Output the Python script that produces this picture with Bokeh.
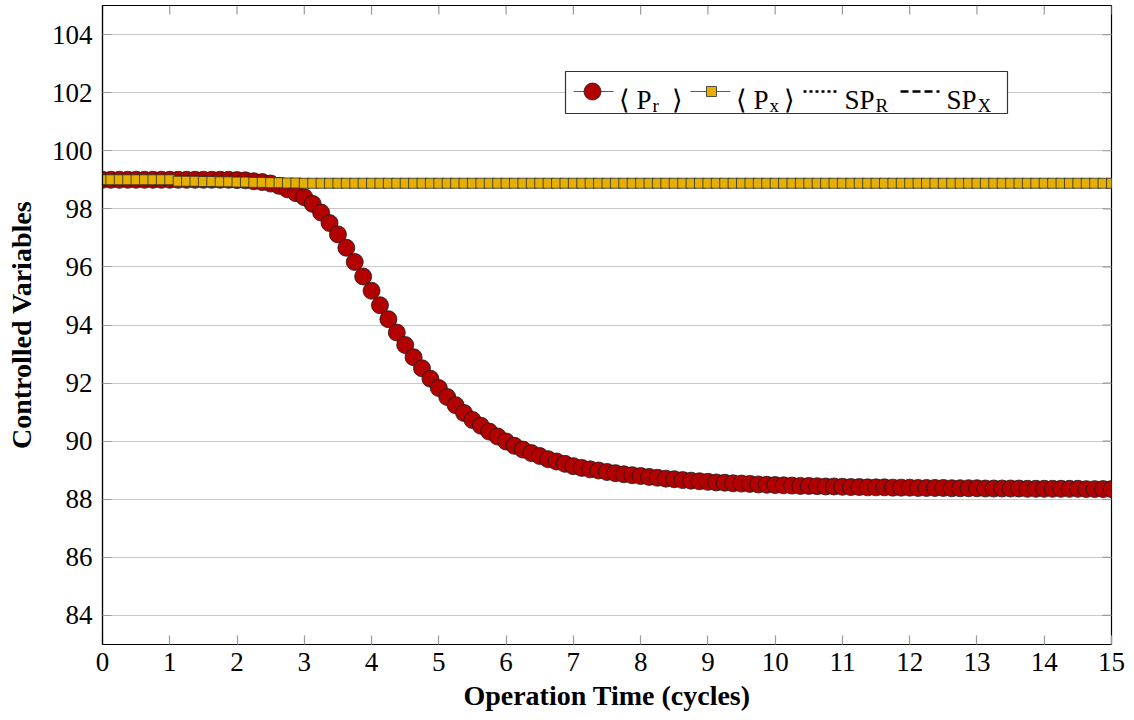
from bokeh.plotting import figure
from bokeh.models import FixedTicker, Range1d
from bokeh.core.properties import value
from bokeh.embed import file_html
from bokeh.resources import INLINE

# ---------------- data ----------------
time = [round(i * 0.125, 3) for i in range(121)]  # sample grid, cycles (step 0.125)

pr = ([99.00] * 16 +
      [98.99, 98.98, 98.95, 98.92, 98.87, 98.79, 98.67, 98.54,
       98.40, 98.17, 97.87, 97.51, 97.12, 96.66, 96.17, 95.67,
       95.18, 94.68, 94.20, 93.74, 93.31, 92.89, 92.51, 92.15,
       91.83, 91.52, 91.24, 90.97, 90.73, 90.53, 90.33, 90.16,
       89.99, 89.84, 89.71, 89.59, 89.49, 89.38, 89.30, 89.22,
       89.14, 89.08, 89.03, 88.99, 88.94, 88.90, 88.86, 88.83,
       88.80, 88.77, 88.74, 88.71, 88.69, 88.66, 88.64, 88.62,
       88.60, 88.58, 88.57, 88.55, 88.54, 88.53, 88.51, 88.50,
       88.49, 88.48, 88.47, 88.46, 88.46, 88.45, 88.44, 88.44,
       88.43, 88.42, 88.42, 88.41, 88.41, 88.41, 88.40, 88.40,
       88.40, 88.39, 88.39, 88.39, 88.39, 88.38, 88.38, 88.38,
       88.38] +
      [88.37] * 5 + [88.36] * 7 + [88.35] * 4)

px = ([99.00] * 9 +
      [98.95, 98.95, 98.95, 98.94, 98.94, 98.93, 98.93, 98.92,
       98.92, 98.91, 98.91, 98.90, 98.90, 98.89, 98.89] +
      [98.88] * 97)

x_ticks = list(range(0, 16))
y_ticks = list(range(84, 105, 2))
x_title = "Operation Time (cycles)"
y_title = "Controlled Variables"
legend_pr = ("\u27e8", "P", "r", "\u27e9")
legend_px = ("\u27e8", "P", "x", "\u27e9")
legend_spr = ("SP", "R")
legend_spx = ("SP", "X")

# ---------------- styles ----------------
FONT = "Liberation Serif"
RED = "#b30000"
GOLD = "#e5b000"
CONNECT = "#5a5a5a"
TICK = "#9a9a9a"
X0, X1, Y0, Y1 = 0, 15, 83, 105

p = figure(width=1134, height=720, output_backend="svg", toolbar_location=None,
           x_range=Range1d(X0, X1), y_range=Range1d(Y0, Y1),
           min_border_left=102, min_border_right=23, min_border_top=5,
           min_border_bottom=76, background_fill_color="white",
           border_fill_color="white")

p.outline_line_color = "black"
p.outline_line_width = 1.2
p.xgrid.visible = False
p.ygrid.ticker = FixedTicker(ticks=y_ticks)
p.ygrid.grid_line_color = "#c8c8c8"
p.ygrid.grid_line_width = 1.2

for ax, ticks in ((p.xaxis[0], x_ticks), (p.yaxis[0], y_ticks)):
    ax.ticker = FixedTicker(ticks=ticks)
    ax.axis_line_color = "black"
    ax.axis_line_width = 1.2
    ax.major_tick_in = 9
    ax.major_tick_out = 0
    ax.major_tick_line_color = TICK
    ax.major_tick_line_width = 1.2
    ax.minor_tick_line_color = None
    ax.major_label_text_font = FONT
    ax.major_label_text_font_size = "27px"
    ax.major_label_text_color = "black"
    ax.axis_label_text_font = FONT
    ax.axis_label_text_font_size = "28px"
    ax.axis_label_text_font_style = "bold"
    ax.axis_label_text_color = "black"

p.xaxis.axis_label = x_title
p.yaxis.axis_label = y_title
p.xaxis.major_label_standoff = 8
p.yaxis.major_label_standoff = 10
p.xaxis.axis_label_standoff = 6
p.yaxis.axis_label_standoff = 12

# inner ticks on the top and right frame edges (9 px long)
ty = 9 * (Y1 - Y0) / 639.0
tx = 9 * (X1 - X0) / 1009.0
p.segment(x0=x_ticks, y0=[Y1] * len(x_ticks), x1=x_ticks, y1=[Y1 - ty] * len(x_ticks),
          line_color=TICK, line_width=1.2)
p.segment(x0=[X1] * len(y_ticks), y0=y_ticks, x1=[X1 - tx] * len(y_ticks), y1=y_ticks,
          line_color=TICK, line_width=1.2)

# ---------------- series ----------------
p.line(time, pr, line_color=CONNECT, line_width=1)
p.scatter(time, pr, marker="circle", size=17, fill_color=RED,
          line_color="#1a1a1a", line_width=0.8)
p.line(time, px, line_color=CONNECT, line_width=1)
p.scatter(time, px, marker="square", size=10, fill_color=GOLD,
          line_color="#2a2a2a", line_width=0.8)

# ---------------- legend (layout helpers: screen px -> data) ----------------
def lx(sx):
    return X0 + (sx - 102.0) * (X1 - X0) / 1009.0

def ly(sy):
    return Y1 - (sy - 5.0) * (Y1 - Y0) / 639.0

p.quad(left=[lx(565)], right=[lx(1007)], top=[ly(71)], bottom=[ly(113)],
       fill_color="white", line_color="#333333", line_width=1.2)

ROW = ly(91)
p.line([lx(573), lx(613)], [ROW, ROW], line_color=CONNECT, line_width=1)
p.scatter([lx(592)], [ROW], marker="circle", size=17, fill_color=RED,
          line_color="#1a1a1a", line_width=0.8)
p.line([lx(690), lx(730)], [ROW, ROW], line_color=CONNECT, line_width=1)
p.scatter([lx(711)], [ROW], marker="square", size=10, fill_color=GOLD,
          line_color="#2a2a2a", line_width=0.8)
p.line([lx(803), lx(839)], [ROW, ROW], line_color="black", line_width=2.6,
       line_dash="3 3")
p.line([lx(900), lx(939)], [ROW, ROW], line_color="black", line_width=2.6,
       line_dash="8 4")

BASE = ly(99.5)
SUB = ly(104.5)
main_x = [lx(618), lx(636), lx(671), lx(735), lx(753), lx(783), lx(844), lx(946)]
main_t = [legend_pr[0], legend_pr[1], legend_pr[3], legend_px[0], legend_px[1],
          legend_px[3], legend_spr[0], legend_spx[0]]
p.text(x=main_x, y=[BASE] * len(main_x), text=main_t,
       text_font=value(FONT), text_font_size="27px", text_color="black",
       text_align="left", text_baseline="alphabetic")
sub_x = [lx(652), lx(769), lx(875), lx(977)]
sub_t = [legend_pr[2], legend_px[2], legend_spr[1], legend_spx[1]]
p.text(x=sub_x, y=[SUB] * len(sub_x), text=sub_t,
       text_font=value(FONT), text_font_size="19px", text_color="black",
       text_align="left", text_baseline="alphabetic")

open("out.html", "w").write(file_html(p, INLINE))
